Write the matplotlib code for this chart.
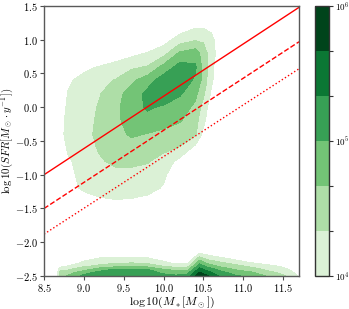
import numpy as np
import matplotlib
matplotlib.use('Agg')
import matplotlib.pyplot as plt
from matplotlib.ticker import FuncFormatter

plt.rcParams['mathtext.fontset'] = 'cm'
plt.rcParams['font.family'] = 'serif'
plt.rcParams['font.serif'] = ['DejaVu Serif']

# contour levels in log10(number density)
levels = [4.0, 13/3, 14/3, 5.0, 16/3, 17/3, 6.0]

# ---- star-forming cloud: log10 density ----
main_x = [8.5, 8.6, 8.7, 8.8, 9.0, 9.2, 9.4, 9.6, 9.8, 10.0, 10.2, 10.4, 10.5, 10.6, 10.7, 10.8]
main_y = [-1.6, -1.4, -1.2, -1.0, -0.8, -0.6, -0.4, -0.2, 0.0, 0.2, 0.4, 0.6, 0.8, 1.0, 1.2, 1.4]
main_logN = [
    [3.0, 3.0, 3.0, 3.0, 3.0, 3.0, 3.0, 3.0, 3.0, 3.0, 3.0, 3.0, 3.0, 3.0, 3.0, 3.0],
    [3.0, 3.0, 3.2, 3.6, 3.79, 3.94, 3.97, 3.95, 3.9, 3.7, 3.4, 3.0, 3.0, 3.0, 3.0, 3.0],
    [3.0, 3.0, 3.3, 3.85, 4.07, 4.12, 4.15, 4.15, 4.1, 3.97, 3.6, 3.2, 3.0, 3.0, 3.0, 3.0],
    [3.0, 3.0, 3.4, 3.9, 4.12, 4.2, 4.25, 4.25, 4.2, 4.07, 3.7, 3.3, 3.0, 3.0, 3.0, 3.0],
    [3.0, 3.2, 3.6, 3.95, 4.15, 4.3, 4.4, 4.4, 4.36, 4.2, 3.9, 3.5, 3.2, 3.0, 3.0, 3.0],
    [3.0, 3.4, 3.8, 4.05, 4.2, 4.37, 4.45, 4.5, 4.48, 4.42, 4.32, 3.9, 3.6, 3.3, 3.0, 3.0],
    [3.0, 3.55, 3.9, 4.1, 4.25, 4.4, 4.55, 4.72, 4.65, 4.55, 4.48, 4.38, 3.9, 3.5, 3.2, 3.0],
    [3.0, 3.55, 3.9, 4.08, 4.24, 4.38, 4.6, 4.8, 4.88, 4.85, 4.7, 4.45, 4.1, 3.7, 3.4, 3.1],
    [3.0, 3.5, 3.85, 4.05, 4.22, 4.36, 4.6, 4.85, 5.05, 4.95, 4.82, 4.6, 4.2, 3.8, 3.5, 3.2],
    [3.0, 3.4, 3.75, 4.02, 4.2, 4.32, 4.55, 4.8, 5.1, 5.25, 5.05, 4.75, 4.4, 3.95, 3.6, 3.3],
    [3.0, 3.2, 3.6, 3.92, 4.18, 4.26, 4.35, 4.6, 4.85, 5.18, 5.2, 4.95, 4.55, 4.05, 3.8, 3.5],
    [3.0, 3.0, 3.2, 3.5, 3.85, 4.04, 4.15, 4.27, 4.354, 4.77, 5.12, 5.05, 4.55, 4.12, 3.73, 3.4],
    [3.0, 3.0, 3.0, 3.0, 3.2, 3.3, 3.75, 3.9, 4.03, 4.2, 4.72, 4.85, 4.5, 4.15, 3.85, 3.5],
    [3.0, 3.0, 3.0, 3.0, 3.0, 3.0, 3.2, 3.4, 3.6, 3.85, 4.15, 4.3, 4.28, 4.1, 3.8, 3.4],
    [3.0, 3.0, 3.0, 3.0, 3.0, 3.0, 3.0, 3.0, 3.0, 3.5, 3.78, 3.95, 3.95, 3.9, 3.5, 3.2],
    [3.0, 3.0, 3.0, 3.0, 3.0, 3.0, 3.0, 3.0, 3.0, 3.0, 3.0, 3.5, 3.5, 3.0, 3.0, 3.0],
]

# ---- quiescent floor at log SFR = -2.5: one list per x column (bottom -> top) ----
floor_x = [8.5, 8.6, 8.7, 8.8, 8.9, 9.0, 9.2, 9.4, 9.6, 9.8, 10.0, 10.15, 10.3,
           10.45, 10.55, 10.7, 10.9, 11.1, 11.3, 11.5, 11.6, 11.7]
floor_y = [-2.5, -2.45, -2.4, -2.35, -2.3, -2.25, -2.2, -2.15, -2.1]
floor_cols = [
    [3.0, 3.0, 3.0, 3.0, 3.0, 3.0, 3.0, 3.0, 3.0],
    [3.0, 3.0, 3.0, 3.0, 3.0, 3.0, 3.0, 3.0, 3.0],
    [4.5, 4.41, 4.25, 3.83, 3.42, 3.0, 3.0, 3.0, 3.0],
    [4.7, 4.52, 4.28, 4.0, 3.72, 3.44, 3.17, 3.0, 3.0],
    [4.85, 4.70, 4.40, 4.14, 3.90, 3.67, 3.43, 3.19, 3.0],
    [5.1, 4.87, 4.53, 4.26, 4.07, 3.89, 3.70, 3.52, 3.33],
    [5.3, 5.13, 4.83, 4.40, 4.21, 4.06, 3.91, 3.76, 3.61],
    [5.3, 5.16, 5.03, 4.53, 4.27, 4.10, 3.93, 3.77, 3.6],
    [5.3, 5.16, 5.03, 4.56, 4.30, 4.11, 3.93, 3.74, 3.56],
    [5.25, 5.125, 5.0, 4.50, 4.26, 4.07, 3.89, 3.70, 3.52],
    [5.1, 4.94, 4.66, 4.29, 4.08, 3.875, 3.67, 3.46, 3.25],
    [5.05, 4.86, 4.56, 4.17, 3.89, 3.61, 3.33, 3.05, 3.0],
    [5.15, 4.89, 4.56, 4.17, 3.89, 3.61, 3.33, 3.05, 3.0],
    [5.9, 5.71, 5.44, 5.17, 4.89, 4.58, 4.22, 3.94, 3.67],
    [5.7, 5.48, 5.2, 4.87, 4.56, 4.29, 4.05, 3.81, 3.57],
    [5.3, 5.13, 4.92, 4.58, 4.37, 4.14, 3.90, 3.67, 3.43],
    [5.05, 4.86, 4.625, 4.42, 4.19, 3.95, 3.71, 3.48, 3.24],
    [4.9, 4.71, 4.48, 4.24, 3.98, 3.76, 3.52, 3.29, 3.05],
    [4.65, 4.45, 4.26, 4.07, 3.89, 3.7, 3.52, 3.33, 3.15],
    [4.4, 4.24, 4.09, 3.94, 3.79, 3.64, 3.48, 3.33, 3.18],
    [4.2, 4.08, 3.95, 3.83, 3.7, 3.58, 3.45, 3.33, 3.2],
    [3.95, 3.85, 3.75, 3.65, 3.55, 3.45, 3.35, 3.25, 3.15],
]

# ---- reference relations ----
line_x = [8.5, 11.7]
solid_y = [-1.0, 1.48]
dashed_y = [-1.5, 0.97]
dotted_y = [-1.88, 0.57]

xticks = [8.5, 9.0, 9.5, 10.0, 10.5, 11.0, 11.5]
yticks = [-2.5, -2.0, -1.5, -1.0, -0.5, 0.0, 0.5, 1.0, 1.5]
cbar_labels = [r'$10^{4}$', '', '', r'$10^{5}$', '', '', r'$10^{6}$']

fig = plt.figure(figsize=(3.49, 3.09), dpi=100)
ax = fig.add_axes([0.1261, 0.1068, 0.7307, 0.8738])
cax = fig.add_axes([0.9026, 0.1068, 0.0401, 0.8738])

cmap = plt.get_cmap('Greens')
band_colors = [cmap(k / 6) for k in range(1, 7)]

cs = ax.contourf(main_x, main_y, np.array(main_logN), levels=levels, colors=band_colors)
ax.contourf(floor_x, floor_y, np.array(floor_cols).T, levels=levels, colors=band_colors)

ax.plot(line_x, solid_y, color='red', lw=1.0)
ax.plot(line_x, dashed_y, color='red', lw=1.0, ls='--')
ax.plot(line_x, dotted_y, color='red', lw=1.0, ls=':')

ax.set_xlim(8.5, 11.7)
ax.set_ylim(-2.5, 1.5)
ax.set_xticks(xticks)
ax.set_yticks(yticks)
fmt = FuncFormatter(lambda v, p: f'${v:.1f}$')
ax.xaxis.set_major_formatter(fmt)
ax.yaxis.set_major_formatter(fmt)
ax.tick_params(labelsize=7.5, length=3, direction='out', color='0.3', pad=1.5)
for s in ax.spines.values():
    s.set_color('0.35')
    s.set_linewidth(1.0)

ax.set_xlabel(r'$\log10(M_*[M_\odot])$', fontsize=8.5, labelpad=0)
ax.set_ylabel(r'$\log10(SFR[M_\odot\cdot y^{-1}])$', fontsize=7.8)
ax.yaxis.set_label_coords(-0.112, 0.5)

cbar = fig.colorbar(cs, cax=cax)
cbar.set_ticks(levels)
cbar.set_ticklabels(cbar_labels)
cbar.ax.tick_params(labelsize=6.5, length=3, color='0.2', pad=1)
cbar.outline.set_edgecolor('0.2')
cbar.outline.set_linewidth(1.0)

fig.savefig('out.png', dpi=100)
